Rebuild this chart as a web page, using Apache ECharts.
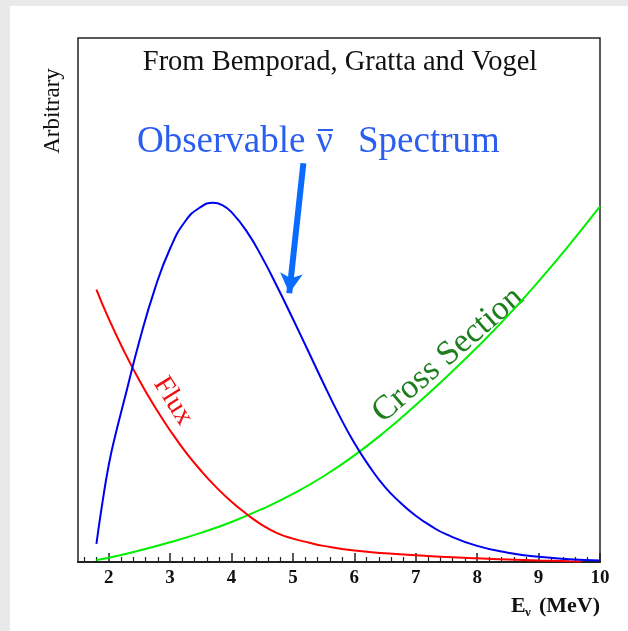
<!DOCTYPE html>
<html>
<head>
<meta charset="utf-8">
<script src="https://cdn.jsdelivr.net/npm/echarts@6/dist/echarts.min.js"></script>
<style>
  html, body { margin: 0; padding: 0; background: #e9e9e9; }
  #chart { width: 628px; height: 631px; }
</style>
</head>
<body>
<div id="chart"></div>
<script>
// x 轴刻度
const majorTicks = [2, 3, 4, 5, 6, 7, 8, 9, 10];

// Flux（红）
const fluxE = [1.8, 2.0, 2.25, 2.5, 2.75, 3.0, 3.25, 3.5, 3.75, 4.0, 4.25, 4.5, 4.75, 5.0, 5.25, 5.5, 6.0, 6.5, 7.0, 7.5, 8.0, 8.5, 9.0, 9.5, 9.7];
const flux = [52.4, 46.8, 40.55, 34.9, 29.85, 25.3, 21.2, 17.6, 14.4, 11.6, 9.2, 7.1, 5.5, 4.5, 3.75, 3.1, 2.2, 1.7, 1.3, 0.95, 0.7, 0.5, 0.3, 0.15, 0.1];

// Observable spectrum（蓝）
const spectrumE = [1.8, 1.9, 2.0, 2.1, 2.25, 2.5, 2.75, 3.0, 3.25, 3.5, 3.7, 3.85, 4.0, 4.25, 4.5, 4.75, 5.0, 5.25, 5.5, 5.75, 6.0, 6.25, 6.5, 6.75, 7.0, 7.25, 7.5, 8.0, 8.5, 9.0, 9.5, 10];
const spectrum = [3.5, 11.6, 18.6, 24.0, 31.0, 42.5, 52.5, 60.3, 65.6, 68.3, 69.1, 68.65, 67.3, 63.55, 58.55, 52.8, 46.75, 40.55, 34.3, 28.3, 22.9, 18.3, 14.4, 11.4, 8.9, 6.9, 5.3, 3.1, 1.8, 1.0, 0.55, 0.3];

// Cross section（绿）
const crossE = [1.8, 2.0, 2.5, 3.0, 3.5, 4.0, 4.5, 5.0, 5.5, 6.0, 6.5, 7.0, 7.5, 8.0, 8.5, 9.0, 9.5, 10];
const cross = [0.4, 0.8, 2.2, 3.8, 5.6, 7.7, 10.2, 13.1, 16.5, 20.5, 25.1, 30.2, 35.6, 41.3, 47.4, 54.0, 61.0, 68.4];

// 箭头起止点 [E, y]
const arrowFrom = [5.17, 76.7];
const arrowTo = [4.94, 51.7];

// 小刻度：每 0.2 一个，跳过整数
const minorTicks = [];
for (let i = 8; i <= 49; i++) {
  if (i % 5 !== 0) minorTicks.push(i / 5);
}

const pairs = (xs, ys) => xs.map((x, i) => [x, ys[i]]);
const serif = '"Liberation Serif", "Times New Roman", serif';
const titleBlue = "#2a5ef0";

const chart = echarts.init(document.getElementById("chart"));

const textEl = (x, y, text, font, fill, align, rotation) => ({
  type: "text",
  x,
  y,
  rotation: rotation || 0,
  style: { text, font, fill, align, verticalAlign: "middle" }
});

const curve = (name, data, color) => ({
  name,
  type: "line",
  data,
  smooth: 0.5,
  showSymbol: false,
  lineStyle: { color, width: 2 }
});

const options = {
  backgroundColor: "#e9e9e9",
  animation: false,
  grid: {
    left: 78,
    right: 28,
    top: 38,
    bottom: 69,
    show: true,
    backgroundColor: "#fff",
    borderColor: "#222",
    borderWidth: 1.5
  },
  xAxis: [
    {
      type: "value",
      min: 1.5,
      max: 10,
      position: "bottom",
      axisLine: { show: true, lineStyle: { color: "#222", width: 2 } },
      axisTick: {
        show: true,
        inside: true,
        length: 9,
        customValues: majorTicks,
        lineStyle: { color: "#222", width: 1.5 }
      },
      axisLabel: {
        customValues: majorTicks,
        color: "#111",
        fontFamily: serif,
        fontWeight: "bold",
        fontSize: 19,
        margin: 7
      },
      splitLine: { show: false }
    },
    {
      type: "value",
      min: 1.5,
      max: 10,
      position: "bottom",
      axisLine: { show: false },
      axisTick: {
        show: true,
        inside: true,
        length: 5,
        customValues: minorTicks,
        lineStyle: { color: "#222", width: 1.2 }
      },
      axisLabel: { show: false },
      splitLine: { show: false }
    }
  ],
  yAxis: {
    type: "value",
    min: 0,
    max: 100.8,
    axisLine: { show: false },
    axisTick: { show: false },
    axisLabel: { show: false },
    splitLine: { show: false }
  },
  series: [
    curve("Cross Section", pairs(crossE, cross), "#00f000"),
    curve("Flux", pairs(fluxE, flux), "#ff0000"),
    Object.assign(curve("Spectrum", pairs(spectrumE, spectrum), "#0000f0"), {
      markLine: {
        silent: true,
        symbol: ["none", "arrow"],
        symbolSize: [17, 20],
        label: { show: false },
        lineStyle: { color: "#0a6cff", width: 6, type: "solid" },
        data: [[{ coord: arrowFrom }, { coord: arrowTo }]]
      }
    })
  ],
  graphic: [
    {
      type: "rect",
      z: -10,
      shape: { x: 10, y: 6, width: 618, height: 625 },
      style: { fill: "#fff" }
    },
    textEl(340, 63, "From Bemporad, Gratta and Vogel", "28.5px " + serif, "#111", "center"),
    textEl(137, 142, "Observable", "37px " + serif, titleBlue, "left"),
    textEl(316, 142, "\u03bd", "37px " + serif, titleBlue, "left"),
    {
      type: "line",
      shape: { x1: 318, y1: 130, x2: 333, y2: 130 },
      style: { stroke: titleBlue, lineWidth: 2 }
    },
    textEl(358, 142, "Spectrum", "37px " + serif, titleBlue, "left"),
    textEl(53, 111, "Arbitrary", "23px " + serif, "#111", "center", Math.PI / 2),
    textEl(173, 401, "Flux", "28px " + serif, "#ee1111", "center", (-58 * Math.PI) / 180),
    textEl(448, 355, "Cross Section", "34px " + serif, "#1e7e1e", "center", (41 * Math.PI) / 180),
    textEl(511, 606, "E", "bold 22px " + serif, "#111", "left"),
    textEl(525, 613, "\u03bd", "bold 13px " + serif, "#111", "left"),
    textEl(600, 606, "(MeV)", "bold 22px " + serif, "#111", "right")
  ]
};

chart.setOption(options);
window.addEventListener("resize", () => chart.resize());
</script>
</body>
</html>
